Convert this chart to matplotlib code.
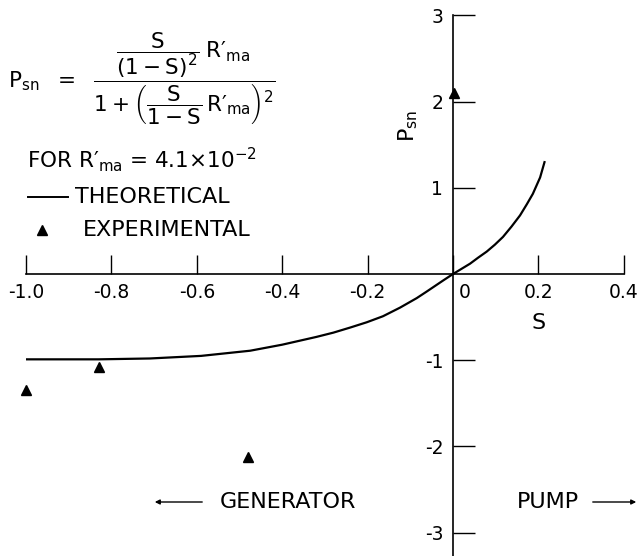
import matplotlib
matplotlib.use("Agg")
import matplotlib.pyplot as plt
from matplotlib.lines import Line2D

plt.rcParams["font.family"] = ["DejaVu Sans"]
plt.rcParams["mathtext.fontset"] = "custom"
plt.rcParams["mathtext.rm"] = "DejaVu Sans"
plt.rcParams["mathtext.it"] = "DejaVu Sans"
plt.rcParams["mathtext.default"] = "regular"

# Theoretical normalized power vs. slip
s_theory = [-1.0, -0.83, -0.71, -0.59, -0.475, -0.40, -0.32, -0.28, -0.24,
            -0.202, -0.164, -0.124, -0.085, -0.062, -0.047, -0.023, 0.0,
            0.04, 0.059, 0.079, 0.098, 0.117, 0.137, 0.157, 0.173, 0.187,
            0.204, 0.215]
p_theory = [-0.99, -0.99, -0.98, -0.95, -0.89, -0.82, -0.73, -0.68, -0.62,
            -0.56, -0.49, -0.39, -0.28, -0.205, -0.155, -0.075, 0.0,
            0.12, 0.19, 0.26, 0.34, 0.43, 0.55, 0.68, 0.81, 0.93,
            1.12, 1.31]

# Measured points
s_exp = [-1.0, -0.83, -0.48, 0.003]
p_exp = [-1.35, -1.08, -2.12, 2.10]

x_ticks = [-1.0, -0.8, -0.6, -0.4, -0.2, 0.0, 0.2, 0.4]
x_ticklabels = ["-1.0", "-0.8", "-0.6", "-0.4", "-0.2", " 0", "0.2", "0.4"]
y_ticks = [-3, -2, -1, 1, 2, 3]
y_ticklabels = ["-3", "-2", "-1", "1", "2", "3"]

W, H = 639, 556
fig = plt.figure(figsize=(W / 100, H / 100), dpi=100)
ax = fig.add_axes([0, 0, 1, 1])
ax.patch.set_alpha(0)

# pixel geometry of the origin and unit lengths
X0, XS = 453.0, 427.0
Y0, YS = 274.0, 86.2
ax.set_xlim((0 - X0) / XS, (W - X0) / XS)
ax.set_ylim((Y0 - H) / YS, Y0 / YS)


def fpos(x, y):
    return x / W, 1 - y / H


for side in ("top", "right"):
    ax.spines[side].set_visible(False)
ax.spines["left"].set_position(("data", 0))
ax.spines["bottom"].set_position(("data", 0))
ax.spines["left"].set_bounds((Y0 - H) / YS, 3)
ax.spines["bottom"].set_bounds(-1.0, 0.4)
ax.spines["left"].set_linewidth(1.2)
ax.spines["bottom"].set_linewidth(1.2)

ax.set_xticks(x_ticks, x_ticklabels)
ax.set_yticks(y_ticks, y_ticklabels)
ax.tick_params(axis="x", direction="in", length=13.5, width=1.0, pad=6.5,
               labelsize=13.5)
ax.tick_params(axis="y", direction="in", length=15.5, width=1.0, pad=7,
               labelsize=13.5)
ax.get_xticklabels()[5].set_ha("left")

ax.plot(s_theory, p_theory, color="black", lw=1.6, solid_capstyle="butt",
        solid_joinstyle="round")
ax.plot(s_exp, p_exp, linestyle="none", marker="^", color="black",
        markersize=6.8, clip_on=False)

fs = 16
fig.text(*fpos(539, 323), "S", ha="center", va="center", fontsize=fs)
fig.text(*fpos(408, 126), "$P_{sn}$", ha="center", va="center",
         rotation=90, fontsize=fs)

formula = (r"$P_{sn}\ \ =\ \ \dfrac{\dfrac{S}{(1-S)^{2}}\;R′_{ma}}"
           r"{1+\left(\dfrac{S}{1-S}\,R′_{ma}\right)^{2}}$")
fig.text(*fpos(8, 79), formula, ha="left", va="center", fontsize=15.5)
fig.text(*fpos(27, 160), r"FOR R′$_{ma}$ = 4.1$\times$10$^{-2}$",
         ha="left", va="center", fontsize=15.5)

# legend
fig.add_artist(Line2D([28 / W, 68 / W], [1 - 197 / H, 1 - 197 / H],
                      color="black", lw=1.4, transform=fig.transFigure))
fig.text(*fpos(75, 197), "THEORETICAL", ha="left", va="center", fontsize=fs)
fig.add_artist(Line2D([42 / W], [1 - 230 / H], marker="^", color="black",
                      markersize=6.8, linestyle="none",
                      transform=fig.transFigure))
fig.text(*fpos(83, 230), "EXPERIMENTAL", ha="left", va="center", fontsize=fs)

# direction annotations
fig.text(*fpos(220, 502), "GENERATOR", ha="left", va="center", fontsize=fs)
ax.annotate("", xy=fpos(152, 502), xytext=fpos(205, 502),
            xycoords="figure fraction", textcoords="figure fraction",
            arrowprops=dict(arrowstyle="-|>", color="black", lw=1.0,
                            mutation_scale=7))
fig.text(*fpos(517, 502), "PUMP", ha="left", va="center", fontsize=fs)
ax.annotate("", xy=fpos(639, 502), xytext=fpos(590, 502),
            xycoords="figure fraction", textcoords="figure fraction",
            arrowprops=dict(arrowstyle="-|>", color="black", lw=1.0,
                            mutation_scale=7))

fig.savefig("out.png", dpi=100, facecolor="white")
